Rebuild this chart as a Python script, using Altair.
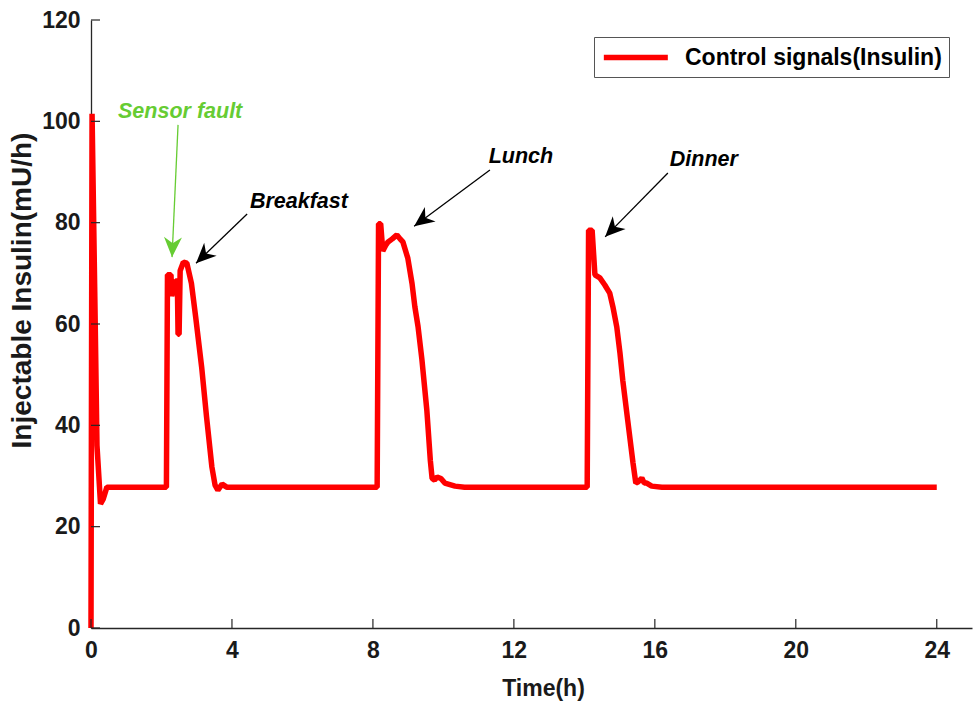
import math

import altair as alt
import pandas as pd

# Insulin infusion profile over one day (time in hours, rate in mU/h)
time_h = [0, 0.03, 0.12, 0.17, 0.27, 0.35, 0.45,
          2.14, 2.17, 2.27, 2.29, 2.33, 2.40, 2.45, 2.47, 2.50, 2.53, 2.62, 2.72,
          2.85, 2.97, 3.14, 3.28, 3.43, 3.52, 3.60, 3.72, 3.85,
          8.12, 8.16, 8.22, 8.28, 8.36, 8.43, 8.55, 8.68, 8.77, 8.85, 8.99,
          9.11, 9.19, 9.28, 9.39, 9.53, 9.63, 9.68, 9.75, 9.82, 9.93, 10.04, 10.33, 10.6,
          14.08, 14.12, 14.22, 14.30, 14.44, 14.58, 14.72, 14.81, 14.92, 15.01,
          15.09, 15.23, 15.38, 15.46, 15.52, 15.63, 15.70, 15.77, 15.91, 16.2,
          24.0]
insulin = [0, 101.5, 60, 36, 24.5, 25.5, 27.8,
           27.8, 69.7, 69.7, 65.5, 66.5, 68.5, 68.5, 58, 58, 70.5, 72.2, 72.0,
           68, 61.4, 51.5, 41.6, 31.8, 28.2, 27.2, 28.4, 27.8,
           27.8, 79.8, 79.8, 74.4, 75.5, 76.2, 76.8, 77.6, 76.8, 76.2, 73,
           68, 63.4, 59.5, 53, 43, 33, 29.5, 29.2, 29.8, 29.5, 28.6, 28.0, 27.8,
           27.8, 78.5, 78.5, 69.7, 69.1, 67.7, 66.1, 63.4, 59.4, 54.3,
           48.9, 41, 32.6, 28.6, 28.8, 29.6, 28.6, 28.6, 28.0, 27.8,
           27.8]
series_name = "Control signals(Insulin)"

x_ticks = [0, 4, 8, 12, 16, 20, 24]
y_ticks = [0, 20, 40, 60, 80, 100, 120]
x_domain = [0, 25]
y_domain = [0, 120]

# Annotations: label, colour, label position, arrow tail and arrow tip
ann_text = ["Sensor fault", "Breakfast", "Lunch", "Dinner"]
ann_color = ["#66cc33", "black", "black", "black"]
ann_text_x = [2.53, 5.90, 12.2, 17.39]
ann_text_y = [101.8, 84.1, 93.0, 92.4]
tail_x = [2.47, 4.43, 11.32, 16.37]
tail_y = [99.3, 81.7, 90.4, 89.8]
tip_x = [2.30, 2.98, 9.17, 14.59]
tip_y = [73.2, 72.0, 79.3, 77.2]

W, H = 881, 608
FONT = "Liberation Sans"
AXIS_COLOR = "#262626"

df = pd.DataFrame({"t": time_h, "u": insulin, "series": series_name})

# arrow-head rotation from the on-screen direction of each arrow
px_x = W / (x_domain[1] - x_domain[0])
px_y = H / (y_domain[1] - y_domain[0])
angles = []
for tx, ty, hx, hy in zip(tail_x, tail_y, tip_x, tip_y):
    dx = (hx - tx) * px_x
    dy = -(hy - ty) * px_y
    angles.append(math.degrees(math.atan2(dx, -dy)) % 360)

ann = pd.DataFrame({
    "label": ann_text, "color": ann_color,
    "lx": ann_text_x, "ly": ann_text_y,
    "x0": tail_x, "y0": tail_y, "x1": tip_x, "y1": tip_y,
    "angle": angles,
})

xs = alt.Scale(domain=x_domain, nice=False, zero=False)
ys = alt.Scale(domain=y_domain, nice=False)

line = alt.Chart(df).mark_line(strokeWidth=5.5, strokeJoin="bevel").encode(
    x=alt.X("t:Q", scale=xs, axis=alt.Axis(
        values=x_ticks, title="Time(h)", format="d",
        titleX=452, titleY=67, titleBaseline="alphabetic",
    )),
    y=alt.Y("u:Q", scale=ys, axis=alt.Axis(
        values=y_ticks, title="Injectable Insulin(mU/h)", format="d",
        titleX=-61, titleY=270, titleBaseline="alphabetic",
    )),
    color=alt.Color("series:N", scale=alt.Scale(domain=[series_name], range=["#ff0000"]),
                    legend=alt.Legend(title=None)),
)

# inward tick marks
xt = alt.Chart(pd.DataFrame({"v": x_ticks})).mark_rule(color=AXIS_COLOR, strokeWidth=1.2).encode(
    x=alt.X("v:Q", scale=xs), y=alt.value(H), y2=alt.value(H - 9))
yt = alt.Chart(pd.DataFrame({"v": y_ticks})).mark_rule(color=AXIS_COLOR, strokeWidth=1.2).encode(
    y=alt.Y("v:Q", scale=ys), x=alt.value(0), x2=alt.value(9))

arrows = alt.Chart(ann).mark_rule(strokeWidth=1.3).encode(
    x=alt.X("x0:Q", scale=xs), y=alt.Y("y0:Q", scale=ys),
    x2="x1:Q", y2="y1:Q",
    color=alt.Color("color:N", scale=None),
)
heads = alt.Chart(ann).mark_point(
    shape="M0,0L0.9,2L0,1.4L-0.9,2Z", filled=True, size=400, opacity=1,
).encode(
    x=alt.X("x1:Q", scale=xs), y=alt.Y("y1:Q", scale=ys),
    angle=alt.Angle("angle:Q", scale=None),
    color=alt.Color("color:N", scale=None),
)
labels = alt.Chart(ann).mark_text(
    font=FONT, fontSize=21.5, fontWeight="bold", fontStyle="italic",
    align="center", baseline="middle",
).encode(
    x=alt.X("lx:Q", scale=xs), y=alt.Y("ly:Q", scale=ys),
    text="label:N",
    color=alt.Color("color:N", scale=None),
)

chart = alt.layer(line, xt, yt, arrows, heads, labels).properties(
    width=W, height=H,
    autosize=alt.AutoSizeParams(type="none"),
    padding={"left": 91, "top": 20, "right": 1, "bottom": 73},
    background="white",
).configure_view(stroke=None).configure_axis(
    grid=False, ticks=False, domainColor=AXIS_COLOR, domainWidth=1.3,
    labelFlush=False, labelOverlap=False,
    labelFont=FONT, labelFontSize=23, labelFontWeight="bold", labelColor="#1a1a1a",
    titleFont=FONT, titleFontSize=23, titleFontWeight="bold", titleColor="#1a1a1a",
).configure_axisX(labelPadding=11).configure_axisY(
    labelPadding=11, titleFontSize=28,
).configure_legend(
    orient="none", legendX=503, legendY=17,
    strokeColor="#555555", fillColor="white", padding=7, cornerRadius=0,
    # short layout footprint, long drawn stroke
    symbolType="M-1,0H5", symbolSize=455, symbolStrokeWidth=5.5,
    labelFont=FONT, labelFontSize=23, labelFontWeight="bold", labelColor="black",
    labelOffset=57, labelLimit=400,
)

chart.save("out.html", embed_options={"renderer": "svg", "actions": False})
